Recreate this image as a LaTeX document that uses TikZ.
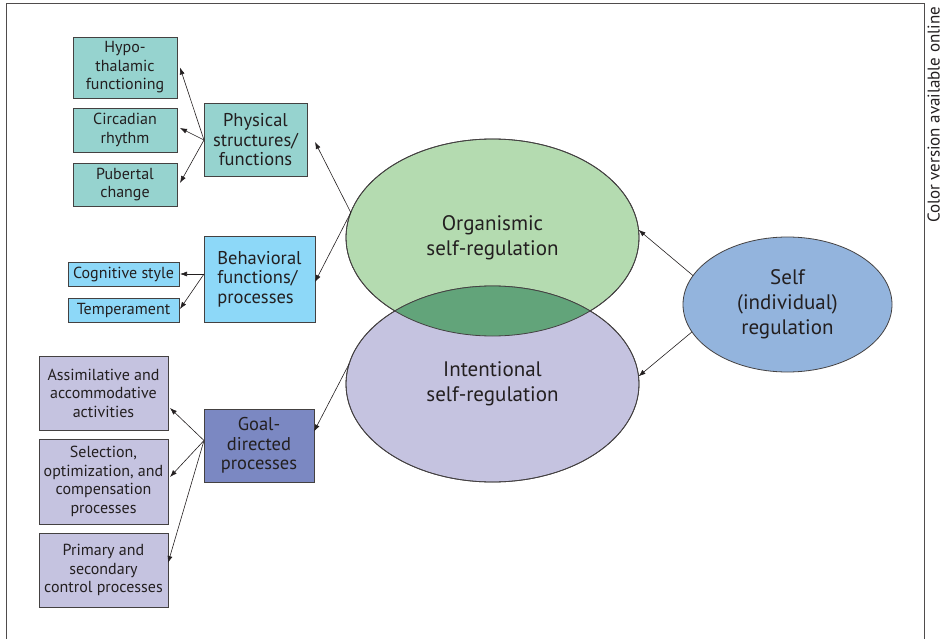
\documentclass[tikz,border=0pt]{standalone}
\usepackage{fontspec}
\setmainfont{PT Sans}
\usetikzlibrary{shapes.geometric,arrows.meta}

\definecolor{tealbox}{RGB}{150,211,207}
\definecolor{skybox}{RGB}{141,216,248}
\definecolor{lilacbox}{RGB}{197,195,224}
\definecolor{goalbox}{RGB}{123,136,194}
\definecolor{orgfill}{RGB}{180,219,176}
\definecolor{overlapfill}{RGB}{98,164,122}
\definecolor{selffill}{RGB}{147,180,221}
\definecolor{ink}{RGB}{35,31,32}

\tikzset{
  box/.style={draw=ink!85, line width=0.8pt, rectangle, inner sep=0pt, outer sep=0pt,
    align=center, text=ink},
  smallbox/.style={box, font=\fontsize{16}{18.5}\selectfont},
  bigbox/.style={box, font=\fontsize{18.5}{19.5}\selectfont},
  blob/.style={ellipse, draw=ink!85, line width=0.8pt, inner sep=0pt, outer sep=0pt,
    align=center, text=ink, font=\fontsize{21}{25}\selectfont},
  link/.style={-{Latex[length=7pt,width=5pt]}, line width=0.6pt, ink}
}

\begin{document}
\begin{tikzpicture}[x=1pt,y=-1pt]

  \useasboundingbox (0,0) rectangle (942,639);
  \draw[ink!80, line width=1pt] (6,639) -- (6,4) -- (924,4) -- (924,639);
  \node[rotate=90, anchor=base, inner sep=0pt, text=ink, font=\fontsize{17}{19}\selectfont] (note) at (939.5,115) {Color version available online};

  \node[smallbox, fill=tealbox, minimum width=104pt, minimum height=61pt] (hypo) at (125,67.5) {Hypo-\\thalamic\\functioning};
  \node[smallbox, fill=tealbox, minimum width=104pt, minimum height=44pt] (circ) at (125,130) {Circadian\\rhythm};
  \node[smallbox, fill=tealbox, minimum width=104pt, minimum height=43pt] (pub) at (125,184.5) {Pubertal\\change};
  \node[bigbox, fill=tealbox, minimum width=103pt, minimum height=73pt] (phys) at (255.5,140) {Physical\\structures/\\functions};

  \node[smallbox, fill=skybox, minimum width=111pt, minimum height=24pt] (cogn) at (123.5,274) {Cognitive style};
  \node[smallbox, fill=skybox, minimum width=111pt, minimum height=24pt] (temp) at (123.5,310) {Temperament};
  \node[bigbox, fill=skybox, minimum width=111pt, minimum height=86pt, align=left] (behav) at (259.5,279) {Behavioral\\functions/\\processes};

  \node[smallbox, fill=lilacbox, minimum width=129pt, minimum height=74pt] (assim) at (103.5,393) {Assimilative and\\accommodative\\activities};
  \node[smallbox, fill=lilacbox, minimum width=129pt, minimum height=85pt] (selec) at (103.5,481.5) {Selection,\\optimization, and\\compensation\\processes};
  \node[smallbox, fill=lilacbox, minimum width=129pt, minimum height=74pt] (prim) at (103.5,570) {Primary and\\secondary\\control processes};
  \node[bigbox, fill=goalbox, minimum width=110pt, minimum height=73pt] (goal) at (259,445.5) {Goal-\\directed\\processes};

  \node[blob, fill=orgfill, minimum width=293pt, minimum height=197pt] (org) at (492.5,237.5) {Organismic\\self-regulation};
  \node[blob, fill=lilacbox, minimum width=293pt, minimum height=196pt] (int) at (492.5,384) {Intentional\\self-regulation};
  \begin{scope}
    \clip (org.center) ellipse [x radius=146.5pt, y radius=98.5pt];
    \fill[overlapfill] (int.center) ellipse [x radius=146.5pt, y radius=98pt];
  \end{scope}
  \draw[ink!85, line width=0.8pt] (org.center) ellipse [x radius=146.5pt, y radius=98.5pt];
  \draw[ink!85, line width=0.8pt] (int.center) ellipse [x radius=146.5pt, y radius=98pt];

  \node[blob, fill=selffill, minimum width=209pt, minimum height=135pt] (self) at (787.5,304.5) {Self\\(individual)\\regulation};

  \draw[link] (phys.west) -- ([xshift=3pt]hypo.east);
  \draw[link] (phys.west) -- ([xshift=3pt,yshift=2pt]circ.east);
  \draw[link] (phys.west) -- ([xshift=3pt,yshift=1.5pt]pub.east);

  \coordinate (bsrc) at (behav.west |- cogn.east);
  \draw[link] (bsrc) -- ([xshift=1pt]cogn.east);
  \draw[link] (bsrc) -- ([xshift=1pt,yshift=1pt]temp.east);

  \coordinate (gsrc) at ([yshift=5pt]goal.west);
  \draw[link] (gsrc) -- ([xshift=2pt,yshift=-15pt]assim.east);
  \draw[link] (gsrc) -- ([xshift=2pt,yshift=4.5pt]selec.east);
  \draw[link] (gsrc) -- ([yshift=7pt]prim.east);

  \draw[link] (org.170) -- ([xshift=8pt,yshift=-2pt]phys.east);
  \draw[link] (org.170) -- ([yshift=-3pt]behav.east);
  \draw[link] (int.172) -- ([yshift=14pt]goal.east);

  \draw[link] (self.163) -- (org.3);
  \draw[link] (self.196) -- (int.3);

\end{tikzpicture}
\end{document}
